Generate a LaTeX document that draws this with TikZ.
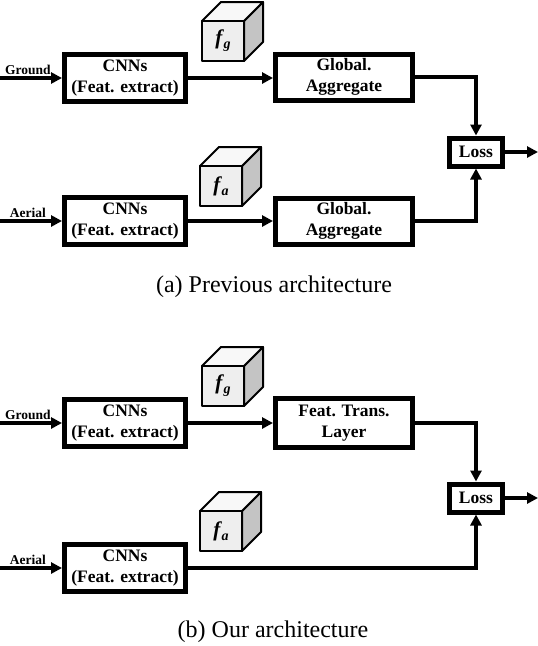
\documentclass[tikz,border=0pt]{standalone}
\usepackage{fontspec}
\setmainfont{Liberation Serif}
\usetikzlibrary{arrows.meta,positioning}

\definecolor{cubefront}{HTML}{EEEEEE}
\definecolor{cubetop}{HTML}{F8F8F8}
\definecolor{cubeside}{HTML}{C4C4C4}

\newcommand{\featsub}[1]{f\kern1.5pt\raisebox{-4pt}{\fontsize{14}{14}\selectfont #1}}

\tikzset{
  block/.style={draw, line width=5pt, fill=white, align=center, inner sep=0pt,
    font=\bfseries\fontsize{17.5}{21}\selectfont},
  cnnbox/.style={block, minimum width=121pt, minimum height=47pt},
  aggbox/.style={block, minimum width=137pt, minimum height=46pt},
  lossbox/.style={block, minimum width=53pt, minimum height=28pt},
  flow/.style={line width=3.5pt, -{Triangle[length=11pt,width=11pt]}},
  inlabel/.style={font=\bfseries\fontsize{13.5}{15}\selectfont, inner sep=2pt},
  caption/.style={font=\fontsize{24}{26}\selectfont},
  pics/featcube/.style={code={
    % front, top and side faces of the feature cube
    \filldraw[fill=cubeside, line width=2pt, line join=round]
      (21,-20) -- (40,-39) -- (40,1) -- (21,20) -- cycle;
    \filldraw[fill=cubetop, line width=2pt, line join=round]
      (-21,-20) -- (-2,-39) -- (40,-39) -- (21,-20) -- cycle;
    \filldraw[fill=cubefront, line width=2pt, line join=round]
      (-21,-20) rectangle (21,20);
    \node[font=\bfseries\itshape\fontsize{21}{22}\selectfont] (-lbl) at (0,0) {#1};
  }}
}

\begin{document}
\begin{tikzpicture}[x=1pt,y=-1pt]
  \useasboundingbox[fill=white] (0,0) rectangle (538,646);

  % (a) previous architecture
  \node[cnnbox] (cnnGa) at (125,78) {CNNs\\(Feat. extract)};
  \node[aggbox] (aggGa) at (344,77) {Global.\\Aggregate};
  \node[cnnbox] (cnnAa) at (125,221) {CNNs\\(Feat. extract)};
  \node[aggbox] (aggAa) at (344,221) {Global.\\Aggregate};
  \node[lossbox] (lossa) at (476,152) {Loss};
  \pic (cubeGa) at (223,41) {featcube={\featsub{g}}};
  \pic (cubeAa) at (221,186) {featcube={\featsub{a}}};

  \coordinate (inGa) at (0,78);
  \coordinate (inAa) at (0,221);
  \coordinate (outa) at (538,152);
  \draw[flow] (inGa) -- node[inlabel, above, pos=0.45] {Ground} (cnnGa.west);
  \draw[flow] (inAa) -- node[inlabel, above, pos=0.45] {Aerial} (cnnAa.west);
  \draw[flow] (cnnGa.east) -- (cnnGa.east -| aggGa.west);
  \draw[flow] (cnnAa.east) -- (aggAa.west);
  \draw[flow] (aggGa.east) -| (lossa.north);
  \draw[flow] (aggAa.east) -| (lossa.south);
  \draw[flow] (lossa.east) -- (outa);

  \node[caption] (capa) at (274,287) {(a) Previous architecture};

  % (b) our architecture
  \node[cnnbox] (cnnGb) at (125,423) {CNNs\\(Feat. extract)};
  \node[aggbox, minimum height=49pt] (transb) at (344,423) {Feat. Trans.\\Layer};
  \node[cnnbox] (cnnAb) at (125,568) {CNNs\\(Feat. extract)};
  \node[lossbox] (lossb) at (476,498) {Loss};
  \pic (cubeGb) at (223,386) {featcube={\featsub{g}}};
  \pic (cubeAb) at (221,531) {featcube={\featsub{a}}};

  \coordinate (inGb) at (0,423);
  \coordinate (inAb) at (0,568);
  \coordinate (outb) at (538,498);
  \draw[flow] (inGb) -- node[inlabel, above, pos=0.45] {Ground} (cnnGb.west);
  \draw[flow] (inAb) -- node[inlabel, above, pos=0.45] {Aerial} (cnnAb.west);
  \draw[flow] (cnnGb.east) -- (transb.west);
  \draw[flow] (transb.east) -| (lossb.north);
  \draw[flow] (cnnAb.east) -| (lossb.south);
  \draw[flow] (lossb.east) -- (outb);

  \node[caption] (capb) at (273,632) {(b) Our architecture};
\end{tikzpicture}
\end{document}
